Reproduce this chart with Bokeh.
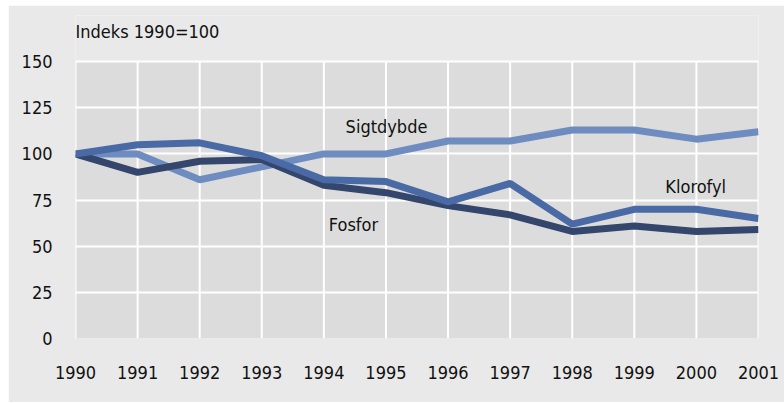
from bokeh.plotting import figure
from bokeh.models import ColumnDataSource, Range1d, FixedTicker, Spacer
from bokeh.layouts import column, row
from bokeh.core.properties import value
from bokeh.embed import file_html
from bokeh.resources import INLINE

years = [1990, 1991, 1992, 1993, 1994, 1995, 1996, 1997, 1998, 1999, 2000, 2001]
fosfor = [100, 90, 96, 97, 83, 79, 72, 67, 58, 61, 58, 59]
klorofyl = [100, 105, 106, 99, 86, 85, 74, 84, 62, 70, 70, 65]
sigtdybde = [100, 100, 86, 93, 100, 100, 107, 107, 113, 113, 108, 112]
y_ticks = [0, 25, 50, 75, 100, 125, 150]

label_names = ["Sigtdybde", "Klorofyl", "Fosfor"]
label_x = [1994.35, 1999.5, 1994.08]
label_y = [114.6, 82.5, 61.8]
unit_title = "Indeks 1990=100"

FONT = "DejaVu Sans Condensed"
FS = "18px"

p = figure(width=776, height=397, output_backend="svg", toolbar_location=None,
           x_range=Range1d(1990, 2001), y_range=Range1d(0, 175),
           min_border_left=67, min_border_right=26, min_border_top=10, min_border_bottom=64)
p.background_fill_color = "#e9e9e9"
p.border_fill_color = "#e9e9e9"
p.outline_line_color = None

# plot area panel (0..150 only)
p.quad(left=[years[0]], right=[years[-1]], bottom=[y_ticks[0]], top=[y_ticks[-1]],
       fill_color="#dcdcdc", line_color=None, level="image")

for ax in (p.xaxis[0], p.yaxis[0]):
    ax.axis_line_color = None
    ax.major_tick_line_color = None
    ax.minor_tick_line_color = None
    ax.major_label_text_font = FONT
    ax.major_label_text_font_size = FS
    ax.major_label_text_color = "#111111"

p.xaxis.ticker = FixedTicker(ticks=years)
p.yaxis.ticker = FixedTicker(ticks=y_ticks)
p.xaxis.major_label_standoff = 21
p.yaxis.major_label_standoff = 17

p.xgrid.grid_line_color = None
p.ygrid.grid_line_color = "white"
p.ygrid.grid_line_width = 2

# vertical grid lines limited to the 0..150 panel
gsrc = ColumnDataSource(dict(x=years, y0=[y_ticks[0]] * len(years), y1=[y_ticks[-1]] * len(years)))
p.segment(x0="x", y0="y0", x1="x", y1="y1", source=gsrc, line_color="white",
          line_width=2, level="underlay")

src = ColumnDataSource(dict(x=years, f=fosfor, k=klorofyl, s=sigtdybde))
p.line("x", "s", source=src, line_color="#6f8cc0", line_width=7)
p.line("x", "f", source=src, line_color="#34466b", line_width=7)
p.line("x", "k", source=src, line_color="#4a6aa5", line_width=7)

lsrc = ColumnDataSource(dict(x=label_x, y=label_y, t=label_names))
p.text("x", "y", text="t", source=lsrc, text_font=value(FONT), text_font_size=FS,
       text_baseline="middle", text_align="left", text_color="#111111")

tsrc = ColumnDataSource(dict(x=[years[0]], y=[166.2], t=[unit_title]))
p.text("x", "y", text="t", source=tsrc, text_font=value(FONT), text_font_size=FS,
       text_baseline="middle", text_align="left", text_color="#111111")

layout = column(Spacer(height=5), row(Spacer(width=8), p))
open("out.html", "w").write(file_html(layout, INLINE))
